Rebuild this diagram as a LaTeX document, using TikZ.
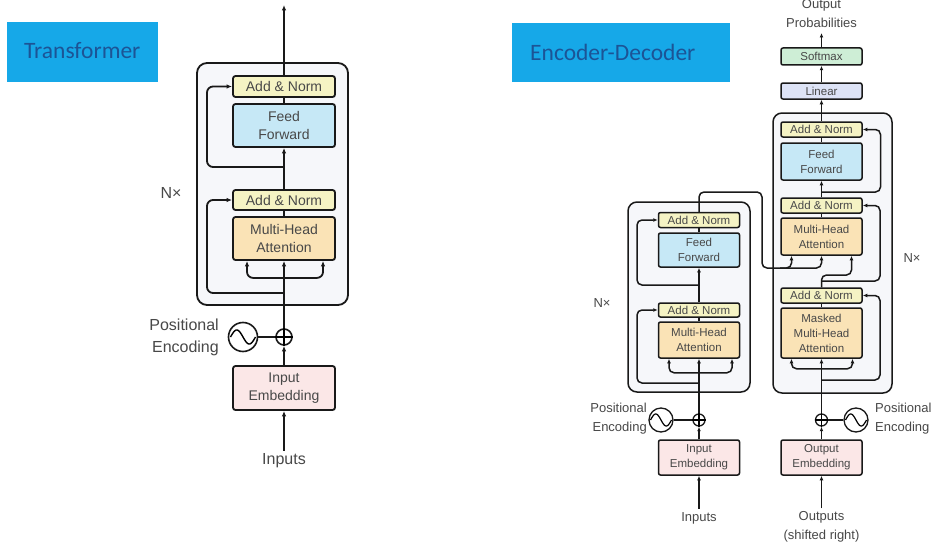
\documentclass[tikz,border=0pt]{standalone}
\usepackage{fontspec}
\setmainfont{Liberation Sans}
\newfontfamily\bannerfont{Carlito}
\usetikzlibrary{arrows.meta,calc}

\definecolor{bannerbg}{RGB}{22,168,232}
\definecolor{bannertxt}{RGB}{28,84,150}
\definecolor{anfill}{RGB}{245,243,196}
\definecolor{fffill}{RGB}{198,232,246}
\definecolor{attfill}{RGB}{250,227,182}
\definecolor{embfill}{RGB}{251,231,231}
\definecolor{smfill}{RGB}{206,238,214}
\definecolor{linfill}{RGB}{221,227,246}
\definecolor{layerfill}{RGB}{246,247,250}
\definecolor{txt}{RGB}{72,72,72}

\tikzset{
  banner/.style={fill=bannerbg, draw=none},
  layer/.style={draw=black!90, fill=layerfill, rounded corners=10pt},
  wireL/.style={line width=1.8pt, draw=black!90, rounded corners=6pt},
  wireR/.style={line width=1.5pt, draw=black!90, rounded corners=5pt},
  tipL/.style={-{Latex[length=5.5pt,width=4.5pt]}},
  tipR/.style={-{Latex[length=4.5pt,width=3.8pt]}},
  bothL/.style={{Latex[length=5.5pt,width=4.5pt]}-{Latex[length=5.5pt,width=4.5pt]}},
  bothR/.style={{Latex[length=4.5pt,width=3.8pt]}-{Latex[length=4.5pt,width=3.8pt]}},
  blockL/.style={draw=black!90, line width=1.8pt, rounded corners=2.5pt,
    minimum width=102pt, inner sep=0pt, align=center, text=txt,
    font=\fontsize{14}{17.5}\selectfont},
  blockR/.style={draw=black!90, line width=1.5pt, rounded corners=2pt,
    minimum width=81pt, inner sep=0pt, align=center, text=txt,
    font=\fontsize{11.5}{15}\selectfont},
  annorm/.style={fill=anfill},
  ffwd/.style={fill=fffill},
  attn/.style={fill=attfill},
  embed/.style={fill=embfill},
  smax/.style={fill=smfill},
  lin/.style={fill=linfill},
  labL/.style={text=txt, inner sep=0pt, font=\fontsize{16}{22}\selectfont},
  labR/.style={text=txt, inner sep=0pt, font=\fontsize{13}{19}\selectfont},
  sumL/.style={circle, draw=black!90, line width=1.6pt, minimum size=16pt, inner sep=0pt},
  sumR/.style={circle, draw=black!90, line width=1.3pt, minimum size=12pt, inner sep=0pt},
  waveL/.style={circle, draw=black!90, line width=1.6pt, minimum size=29pt, inner sep=0pt},
  waveR/.style={circle, draw=black!90, line width=1.3pt, minimum size=24pt, inner sep=0pt},
}

\begin{document}
\begin{tikzpicture}[x=1pt,y=-1pt]
\useasboundingbox (0,0) rectangle (937,551);
\fill[white] (0,0) rectangle (937,551);

% ---------- title banners ----------
\fill[banner] (7,22) rectangle (158,82);
\node[anchor=west, inner sep=0pt, text=bannertxt, font=\bannerfont\fontsize{23.5}{26}\selectfont]
  (tTitle) at (24,51) {Transformer};
\fill[banner] (512,23) rectangle (730,82);
\node[anchor=west, inner sep=0pt, text=bannertxt, font=\bannerfont\fontsize{23.5}{26}\selectfont]
  (edTitle) at (530,52) {Encoder-Decoder};

% =====================================================
% Transformer block (left)
% =====================================================
\draw[layer, line width=1.8pt] (197,63) rectangle (348,305);

\node[blockL, annorm, minimum height=21pt] (tAN1) at (284,86.5) {Add \& Norm};
\node[blockL, ffwd,   minimum height=43pt] (tFF)  at (284,125.5) {Feed\\Forward};
\node[blockL, annorm, minimum height=20pt] (tAN2) at (284,200) {Add \& Norm};
\node[blockL, attn,   minimum height=43pt] (tMHA) at (284,238.5) {Multi-Head\\Attention};
\node[blockL, embed,  minimum height=44pt] (tEmb) at (284,388) {Input\\Embedding};
\node[sumL]  (tSum) at (284,337) {};
\node[waveL] (tPE)  at (243,337) {};
\node[labL, anchor=east, align=right] (tPElab) at (219,337) {Positional\\Encoding};
\node[labL] (tIn) at (284,461) {Inputs};
\node[labL] (tNx) at (171,193) {N×};

\coordinate (tTop) at (284,5);
\coordinate (tR1) at (284,167);
\coordinate (tR2) at (284,293);

\draw[line width=1.6pt] (tSum.north) -- (tSum.south) (tSum.west) -- (tSum.east);
\draw[line width=1.4pt] plot[domain=-1:1, samples=40, smooth] ({243+12.5*\x},{337+7*sin(180*\x)});

\draw[wireL, tipL] (tAN1.north) -- (tTop);
\draw[wireL] (tFF.north) -- (tAN1.south);
\draw[wireL, tipL] (tAN2.north) -- (tFF.south);
\draw[wireL, tipL] (tR1) -- ++(-77,0) |- (tAN1.west);
\draw[wireL] (tMHA.north) -- (tAN2.south);
\draw[wireL, tipL] (tSum.north) -- (tMHA.south);
\draw[wireL, bothL] ([xshift=-37pt]tMHA.south) -- ++(0,17) -- ++(76,0) -- ++(0,-17);
\draw[wireL, tipL] (tR2) -- ++(-77,0) |- (tAN2.west);
\draw[wireL] (tPE.east) -- (tSum.west);
\draw[wireL, tipL] (tEmb.north) -- (tSum.south);
\draw[wireL, tipL] ([yshift=3pt]tIn.north) -- (tEmb.south);

% =====================================================
% Encoder (right figure, left stack)
% =====================================================
\draw[layer, line width=1.5pt, rounded corners=9pt] (628,202) rectangle (750,392);

\node[blockR, annorm, minimum height=15pt] (eAN1) at (699,220) {Add \& Norm};
\node[blockR, ffwd,   minimum height=34pt] (eFF)  at (699,250) {Feed\\Forward};
\node[blockR, annorm, minimum height=14pt] (eAN2) at (699,310) {Add \& Norm};
\node[blockR, attn,   minimum height=36pt] (eMHA) at (699,340) {Multi-Head\\Attention};
\node[blockR, embed,  minimum height=35pt] (eEmb) at (699,457.5) {Input\\Embedding};
\node[sumR]  (eSum) at (699,420) {};
\node[waveR] (ePE)  at (661,420) {};
\node[labR, anchor=east, align=right] (ePElab) at (647,419) {Positional\\Encoding};
\node[labR] (eIn) at (699,518) {Inputs};
\node[labR] (eNx) at (602,303) {N×};

\coordinate (eR1) at (699,285);
\coordinate (eR2) at (699,383);
\coordinate (eOut) at (762,192);
\coordinate (eDown) at (762,268);
\coordinate (eMid) at (780,268);

\draw[line width=1.3pt] (eSum.north) -- (eSum.south) (eSum.west) -- (eSum.east);
\draw[line width=1.2pt] plot[domain=-1:1, samples=40, smooth] ({661+10.5*\x},{420+6*sin(180*\x)});

\draw[wireR] (eFF.north) -- (eAN1.south);
\draw[wireR, tipR] (eAN2.north) -- (eFF.south);
\draw[wireR, tipR] (eR1) -- ++(-62,0) |- (eAN1.west);
\draw[wireR] (eMHA.north) -- (eAN2.south);
\draw[wireR, tipR] (eSum.north) -- (eMHA.south);
\draw[wireR, bothR] ([xshift=-30pt]eMHA.south) -- ++(0,14) -- ++(63,0) -- ++(0,-14);
\draw[wireR, tipR] (eR2) -- ++(-62,0) |- (eAN2.west);
\draw[wireR] (ePE.east) -- (eSum.west);
\draw[wireR, tipR] (eEmb.north) -- (eSum.south);
\draw[wireR, tipR] ([yshift=3pt]eIn.north) -- (eEmb.south);

% =====================================================
% Decoder (right figure, right stack)
% =====================================================
\draw[layer, line width=1.5pt, rounded corners=9pt] (773,113) rectangle (892,393);

\node[blockR, smax,   minimum height=17pt] (dSm)   at (821.5,56.5) {Softmax};
\node[blockR, lin,    minimum height=16pt] (dLin)  at (821.5,91) {Linear};
\node[blockR, annorm, minimum height=15pt] (dAN1)  at (821.5,129.5) {Add \& Norm};
\node[blockR, ffwd,   minimum height=37pt] (dFF)   at (821.5,161.5) {Feed\\Forward};
\node[blockR, annorm, minimum height=15pt] (dAN2)  at (821.5,205.5) {Add \& Norm};
\node[blockR, attn,   minimum height=37pt] (dMHA)  at (821.5,236.5) {Multi-Head\\Attention};
\node[blockR, annorm, minimum height=15pt] (dAN3)  at (821.5,295.5) {Add \& Norm};
\node[blockR, attn,   minimum height=50pt] (dMMHA) at (821.5,333) {Masked\\Multi-Head\\Attention};
\node[blockR, embed,  minimum height=35pt] (dEmb)  at (821.5,457.5) {Output\\Embedding};
\node[sumR]  (dSum) at (821.5,420) {};
\node[waveR] (dPE)  at (856,420) {};
\node[labR, anchor=west, align=left] (dPElab) at (875,419) {Positional\\Encoding};
\node[labR, align=center] (dOut) at (821.5,527) {Outputs\\(shifted right)};
\node[labR, align=center] (dProb) at (821.5,14) {Output\\Probabilities};
\node[labR] (dNx) at (912,258) {N×};

\coordinate (dTop) at (821.5,33);
\coordinate (dR1) at (821.5,192);
\coordinate (dR2) at (821.5,281);
\coordinate (dQ)  at (821.5,275);
\coordinate (dR3) at (821.5,380);

\draw[line width=1.3pt] (dSum.north) -- (dSum.south) (dSum.west) -- (dSum.east);
\draw[line width=1.2pt] plot[domain=-1:1, samples=40, smooth] ({856+10.5*\x},{420+6*sin(180*\x)});

\draw[wireR, tipR] (dSm.north) -- (dTop);
\draw[wireR, tipR] (dLin.north) -- (dSm.south);
\draw[wireR, tipR] (dAN1.north) -- (dLin.south);
\draw[wireR] (dFF.north) -- (dAN1.south);
\draw[wireR, tipR] (dAN2.north) -- (dFF.south);
\draw[wireR, tipR] (dR1) -- ++(59,0) |- (dAN1.east);
\draw[wireR] (dMHA.north) -- (dAN2.south);
\draw[wireR, tipR] (dAN3.north) -- (dQ) -| ([xshift=30pt]dMHA.south);
\draw[wireR, tipR] (dR2) -- ++(58.5,0) |- (dAN2.east);
\draw[wireR] (dMMHA.north) -- (dAN3.south);
\draw[wireR, tipR] (dSum.north) -- (dMMHA.south);
\draw[wireR, bothR] ([xshift=-30pt]dMMHA.south) -- ++(0,10) -- ++(61,0) -- ++(0,-10);
\draw[wireR, tipR] (dR3) -- ++(58.5,0) |- (dAN3.east);
\draw[wireR] (dPE.west) -- (dSum.east);
\draw[wireR, tipR] (dEmb.north) -- (dSum.south);
\draw[wireR, tipR] ([yshift=3pt]dOut.north) -- (dEmb.south);

% encoder output feeding the decoder attention
\draw[wireR, tipR] (eAN1.north) |- (eOut) -- (eDown) -| ([xshift=-30pt]dMHA.south);
\draw[wireR, tipR] (eMid) -| (dMHA.south);
\end{tikzpicture}
\end{document}
